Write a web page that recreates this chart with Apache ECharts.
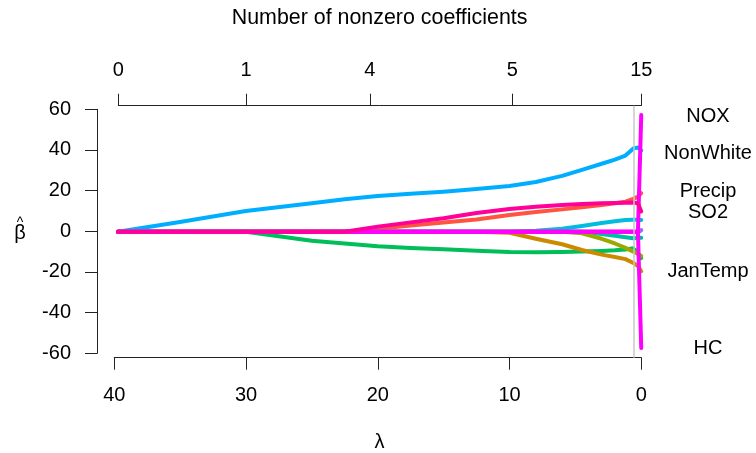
<!DOCTYPE html>
<html><head><meta charset="utf-8">
<script src="https://cdn.jsdelivr.net/npm/echarts@6/dist/echarts.min.js"></script>
<style>html,body{margin:0;padding:0;background:#fff}#c{width:756px;height:453px}</style>
</head><body><div id="c"></div>
<script>
// lambda knots (x), shared by all coefficient paths
const lambda      = [39.7, 35, 30, 25, 22.5, 20, 17.5, 15, 12.5, 10, 8, 6, 4.5, 3, 2, 1.2, 0.6, 0.25, 0];
const NonWhite    = [0, 4.8, 10.2, 14, 16, 17.6, 18.7, 19.7, 21, 22.5, 24.5, 27.5, 30.5, 33.5, 35.5, 37.5, 41, 41.5, 40];
const greenPath   = [0, 0, 0, -4.5, -5.8, -7.2, -8, -8.7, -9.4, -10, -10.1, -10, -9.8, -9.5, -9.2, -8.8, -8.2, -10.5, -13];
const JanTemp     = [0, 0, 0, 0, 0, 0, 0, 0, 0, -0.5, -3.5, -6.2, -9, -11.3, -12.5, -13.5, -15.4, -17, -19.5];
const Precip      = [0, 0, 0, 0, 0, 1.5, 3, 4.5, 6, 8.2, 9.7, 11, 12.1, 13.2, 14, 14.8, 16.2, 17.3, 19];
const cyanPath    = [0, 0, 0, 0, 0, 0, 0, 0, 0, 0, 0.5, 1.5, 2.8, 4.3, 5.2, 5.8, 5.9, 5.9, 5.8];
const tealPath    = [0, 0, 0, 0, 0, 0, 0, 0, 0, 0, 0, 0, 0, -1.2, -2, -2.7, -3.2, -3.1, -3];
const olivePath   = [0, 0, 0, 0, 0, 0, 0, 0, 0, 0, 0, 0, -0.8, -3.5, -5.8, -8, -9.8, -11, -12];
const purplePath  = [0, 0, 0, 0, 0, 0, 0, 0, 0, 0, 0, 0, 0, 0, 0, 0, 0, -0.5, 0.8];
const NOX         = [0, 0, 0, 0, 0, 0, 0, 0, 0, 0, 0, 0, 0, 0, 0, 0, 0, 0, 57.5];
const HC          = [0, 0, 0, 0, 0, 0, 0, 0, 0, 0, 0, 0, 0, 0, 0, 0, 0, 0, -57.3];
const SO2         = [0, 0, 0, 0, 0, 2.5, 4.6, 6.6, 9.2, 11.2, 12.3, 13.1, 13.6, 14, 14.2, 14.3, 14.4, 14, 10];

// axes
const bottomTicks   = [40, 30, 20, 10, 0];
const yTicks        = [-60, -40, -20, 0, 20, 40, 60];
const topTickLambda = [39.7, 30, 20.6, 9.8, 0];
const topTickCount  = [0, 1, 4, 5, 15];
const grayLineLambda = 0.58;

// right-hand labels
const labelNames  = ['NOX', 'NonWhite', 'Precip', 'SO2', 'JanTemp', 'HC'];
const labelValues = [56.8, 38.6, 19.7, 9.6, -19.7, -57.5];

const FONT = '"Liberation Sans", Arial, Helvetica, sans-serif';
const FS = 20;

const paths = [
  {name:'NonWhite', data:NonWhite, color:'#00AEFF'},
  {name:'green', data:greenPath, color:'#00BE5A'},
  {name:'JanTemp', data:JanTemp, color:'#CC8A00'},
  {name:'Precip', data:Precip, color:'#FF5540'},
  {name:'cyan', data:cyanPath, color:'#00BDDD'},
  {name:'teal', data:tealPath, color:'#00BBA5'},
  {name:'olive', data:olivePath, color:'#9AA800'},
  {name:'purple', data:purplePath, color:'#9966FF'},
  {name:'NOX', data:NOX, color:'#FF00FF'},
  {name:'HC', data:HC, color:'#FF00FF'},
  {name:'SO2', data:SO2, color:'#FF0099'}
];

const series = paths.map((p, i) => {
  const s = {
    type:'line', name:p.name, xAxisIndex:0, yAxisIndex:0,
    data: lambda.map((l, k) => [l, p.data[k]]),
    symbol:'none', showSymbol:false, smooth:false,
    lineStyle:{color:p.color, width:4, cap:'round', join:'round'},
    itemStyle:{color:p.color},
    emphasis:{disabled:true}, silent:true
  };
  if (i === 0) {
    s.markLine = {silent:true, symbol:'none', label:{show:false},
      lineStyle:{color:'#c8c8c8', width:1.5, type:'solid'},
      data:[{xAxis: grayLineLambda}]};
  }
  return s;
});

const axisLineStyle = {color:'#222', width:1};
const labelStyle = {color:'#000', fontSize:FS, fontFamily:FONT};
const gb = {containLabel:false, outerBoundsMode:'none'};

const option = {
  animation:false,
  backgroundColor:'#fff',
  grid:[
    Object.assign({left:97, right:93.8, top:105.7, bottom:95.3}, gb),
    Object.assign({left:114.3, right:114.7, top:105.7, bottom:95.3}, gb),
    Object.assign({left:118.3, right:114.7, top:105.7, bottom:95.3}, gb),
    Object.assign({left:97, right:93.8, top:109.3, bottom:99.7}, gb)
  ],
  xAxis:[
    {gridIndex:0, type:'value', position:'bottom', inverse:true, min:-1.59, max:41.29,
     axisLine:{show:false, onZero:false}, axisTick:{show:false}, axisLabel:{show:false}, splitLine:{show:false},
     name:'λ', nameLocation:'middle', nameGap:75, nameTextStyle:labelStyle},
    {gridIndex:0, type:'value', position:'top', inverse:true, min:-1.59, max:41.29,
     axisLine:{show:false, onZero:false}, axisTick:{show:false}, axisLabel:{show:false}, splitLine:{show:false},
     name:'Number of nonzero coefficients', nameLocation:'middle', nameGap:77,
     nameTextStyle:{color:'#000', fontSize:21.4, fontFamily:FONT}},
    {gridIndex:1, type:'value', position:'bottom', inverse:true, min:0, max:40,
     axisLine:{show:true, onZero:false, lineStyle:axisLineStyle},
     axisTick:{show:true, inside:false, length:12, lineStyle:axisLineStyle, customValues:bottomTicks},
     axisLabel:Object.assign({show:true, margin:28, customValues:bottomTicks}, labelStyle),
     splitLine:{show:false}},
    {gridIndex:2, type:'value', position:'top', inverse:true, min:0, max:39.7,
     axisLine:{show:true, onZero:false, lineStyle:axisLineStyle},
     axisTick:{show:true, inside:false, length:12, lineStyle:axisLineStyle, customValues:topTickLambda},
     axisLabel:Object.assign({show:true, margin:25, customValues:topTickLambda,
       formatter:function(v){ let b=0, d=1e9; topTickLambda.forEach((t,i)=>{ if(Math.abs(t-v)<d){d=Math.abs(t-v); b=i;} }); return String(topTickCount[b]); }}, labelStyle),
     splitLine:{show:false}},
    {gridIndex:3, type:'value', show:false, min:0, max:1}
  ],
  yAxis:[
    {gridIndex:0, type:'value', show:false, min:-62.1, max:62.1},
    {gridIndex:1, type:'value', show:false, min:0, max:1},
    {gridIndex:2, type:'value', show:false, min:0, max:1},
    {gridIndex:3, type:'value', position:'left', min:-60, max:60, interval:20,
     axisLine:{show:true, onZero:false, lineStyle:axisLineStyle},
     axisTick:{show:true, inside:false, length:12, lineStyle:axisLineStyle, customValues:yTicks},
     axisLabel:Object.assign({show:true, margin:26, customValues:yTicks}, labelStyle),
     splitLine:{show:false},
     name:'{h|^}\n{b|β}', nameLocation:'middle', nameRotate:0, nameGap:77,
     nameTextStyle:{color:'#000', fontFamily:FONT, align:'center',
       rich:{h:{fontSize:14, lineHeight:3.4, fontFamily:FONT, color:'#000', align:'center'},
             b:{fontSize:20, lineHeight:16.6, fontFamily:FONT, color:'#000', align:'center'}}}}
  ],
  series: series
};

const chart = echarts.init(document.getElementById('c'), null, {renderer:'canvas'});
chart.setOption(option);

const graphics = labelNames.map((n, i) => {
  const y = chart.convertToPixel({yAxisIndex:0}, labelValues[i]);
  return {type:'text', silent:true, x:708, y:y,
    style:{text:n, textAlign:'center', textVerticalAlign:'middle', fill:'#000', font: FS + 'px ' + FONT}};
});
chart.setOption({graphic: graphics});
</script>
</body></html>
